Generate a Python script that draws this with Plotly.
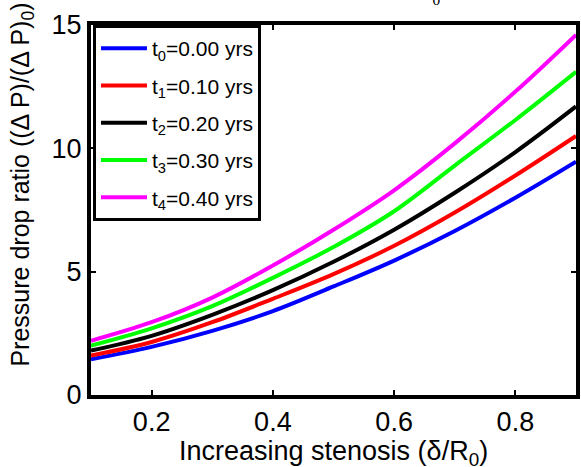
import plotly.graph_objects as go

x_vals = [0.1, 0.2, 0.3, 0.4, 0.5, 0.6, 0.7, 0.8, 0.9]
t0_vals = [1.45, 1.95, 2.6, 3.4, 4.4, 5.45, 6.65, 8.0, 9.46]
t1_vals = [1.6, 2.15, 2.95, 3.9, 4.9, 6.05, 7.4, 8.9, 10.5]
t2_vals = [1.8, 2.4, 3.25, 4.25, 5.4, 6.7, 8.2, 9.85, 11.7]
t3_vals = [2.0, 2.7, 3.6, 4.75, 6.0, 7.45, 9.3, 11.15, 13.1]
t4_vals = [2.2, 2.95, 3.95, 5.25, 6.7, 8.3, 10.2, 12.3, 14.6]

series_names = ["t<sub>0</sub>=0.00 yrs", "t<sub>1</sub>=0.10 yrs", "t<sub>2</sub>=0.20 yrs",
                "t<sub>3</sub>=0.30 yrs", "t<sub>4</sub>=0.40 yrs"]
series_vals = [t0_vals, t1_vals, t2_vals, t3_vals, t4_vals]
colors = ["#0000ff", "#ff0000", "#000000", "#00ff00", "#ff00ff"]

x_ticks = [0.2, 0.4, 0.6, 0.8]
y_ticks = [0, 5, 10, 15]

font_family = "Liberation Sans, Arial, sans-serif"
W, H = 581, 467
L, R, T, B = 91, 1, 25, 72
PW, PH = W - L - R, H - T - B

fig = go.Figure()
for i, (name, vals, c) in enumerate(zip(series_names, series_vals, colors)):
    fig.add_trace(go.Scatter(x=x_vals, y=vals, mode="lines", name=name, legendgroup=f"g{i}",
                             line=dict(color=c, width=4, shape="spline")))

fig.update_layout(
    width=W, height=H,
    margin=dict(l=L, r=R, t=T, b=B),
    paper_bgcolor="white", plot_bgcolor="white",
    font=dict(family=font_family, color="black"),
    showlegend=True,
    legend=dict(x=2 / PW, y=1, xanchor="left", yanchor="top",
                bgcolor="white", bordercolor="black", borderwidth=3,
                tracegroupgap=7, itemwidth=46,
                font=dict(size=21, family=font_family, color="black")),
)
fig.update_xaxes(range=[0.1, 0.9], tickvals=x_ticks, ticktext=[f"{v:.1f}" for v in x_ticks],
                 ticks="inside", ticklen=5, tickwidth=2, tickcolor="black",
                 showline=True, linewidth=4, linecolor="black", mirror="ticks",
                 showgrid=False, zeroline=False,
                 tickfont=dict(size=27, family=font_family, color="black"))
fig.update_yaxes(range=[0, 15], tickvals=y_ticks,
                 ticks="inside", ticklen=5, tickwidth=2, tickcolor="black",
                 showline=True, linewidth=4, linecolor="black", mirror="ticks",
                 showgrid=False, zeroline=False,
                 tickfont=dict(size=27, family=font_family, color="black"))

fig.add_annotation(text="Increasing stenosis (δ/R<sub>0</sub>)", xref="paper", yref="paper",
                   x=0.5, y=(T + PH - 453) / PH, xanchor="center", yanchor="middle",
                   showarrow=False, font=dict(size=27, family=font_family, color="black"))
fig.add_annotation(text="Pressure drop ratio ((Δ P)/(Δ P)<sub>0</sub>)", xref="paper", yref="paper",
                   x=(21 - L) / PW, y=(T + PH - 185) / PH, xanchor="center", yanchor="middle",
                   textangle=-90, showarrow=False,
                   font=dict(size=25, family=font_family, color="black"))
fig.add_annotation(text="<i>R</i><sub>0</sub>", xref="paper", yref="paper",
                   x=(432 - L) / PW, y=(T + PH - 10) / PH, xanchor="center", yanchor="bottom",
                   showarrow=False,
                   font=dict(size=22, family="Liberation Serif, serif", color="black"))

fig.write_html("out.html", config={"displayModeBar": False},
               post_script="document.body.style.margin='0';")
